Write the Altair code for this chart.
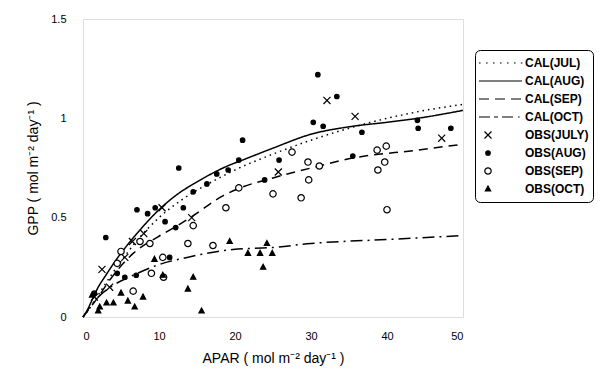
import altair as alt
import pandas as pd

# ---- calculated curves ----
jul_x = [0, 1, 2, 3, 5, 7, 10, 13, 16, 20, 25, 30, 35, 40, 45, 50]
jul_y = [0, 0.05, 0.11, 0.17, 0.28, 0.38, 0.50, 0.59, 0.66, 0.74, 0.82, 0.89, 0.95, 1.00, 1.04, 1.07]
aug_x = [0, 0.5, 1, 2, 3, 4.4, 6, 8, 10, 12.5, 15, 19, 21, 25, 30, 35.5, 40, 44, 50]
aug_y = [0, 0.03, 0.07, 0.15, 0.21, 0.29, 0.37, 0.46, 0.54, 0.62, 0.68, 0.76, 0.79, 0.85, 0.92, 0.96, 0.98, 1.00, 1.04]
sep_x = [0, 1, 1.8, 3.6, 6.6, 9.7, 12, 14.5, 18.4, 20.7, 25, 30, 35.5, 44, 50]
sep_y = [0, 0.05, 0.09, 0.19, 0.32, 0.40, 0.45, 0.51, 0.61, 0.65, 0.70, 0.75, 0.80, 0.84, 0.87]
oct_x = [0, 0.9, 2, 3.6, 6.6, 9.7, 13.7, 19.7, 25, 30, 40, 50]
oct_y = [0, 0.05, 0.10, 0.15, 0.21, 0.26, 0.30, 0.34, 0.35, 0.37, 0.39, 0.41]

obs_jul_x = [1.5, 2.5, 3.5, 5.5, 6.5, 8.0, 10.4, 14.3, 25.7, 32.1, 35.8, 47.2]
obs_jul_y = [0.10, 0.24, 0.15, 0.30, 0.38, 0.42, 0.55, 0.50, 0.73, 1.09, 1.01, 0.90]
obs_aug_x = [1.5, 3.0, 4.5, 5.5, 7.0, 7.1, 8.5, 9.5, 10.8, 11.4, 12.2, 12.6, 13.2, 14.5, 16.3,
             17.6, 19.1, 20.5, 21.0, 23.9, 25.8, 30.3, 30.9, 31.6, 33.4, 35.5, 36.7, 44.1, 44.0, 48.4]
obs_aug_y = [0.12, 0.40, 0.22, 0.20, 0.21, 0.54, 0.52, 0.55, 0.48, 0.30, 0.45, 0.75, 0.55, 0.63, 0.67,
             0.72, 0.74, 0.79, 0.89, 0.69, 0.79, 0.98, 1.22, 0.96, 1.11, 0.81, 0.93, 0.95, 0.99, 0.95]
obs_sep_x = [4.5, 5.0, 6.6, 7.5, 8.8, 9.0, 10.6, 10.5, 13.8, 14.5, 17.1, 18.8, 20.5, 25.0, 27.5,
             28.7, 29.6, 29.7, 31.1, 38.7, 38.8, 39.7, 39.9, 40.0]
obs_sep_y = [0.27, 0.33, 0.13, 0.38, 0.37, 0.22, 0.20, 0.30, 0.37, 0.46, 0.36, 0.55, 0.65, 0.62, 0.83,
             0.60, 0.78, 0.69, 0.76, 0.84, 0.74, 0.78, 0.86, 0.54]
obs_oct_x = [1.2, 2.0, 2.2, 3.1, 4.0, 5.0, 5.9, 6.8, 7.9, 9.4, 10.5, 13.8, 14.5, 15.6, 19.3,
             21.7, 23.3, 23.7, 24.2, 24.9]
obs_oct_y = [0.11, 0.03, 0.05, 0.07, 0.07, 0.12, 0.08, 0.05, 0.10, 0.29, 0.21, 0.14, 0.20, 0.03, 0.38,
             0.32, 0.32, 0.25, 0.37, 0.32]

labels = ["CAL(JUL)", "CAL(AUG)", "CAL(SEP)", "CAL(OCT)",
          "OBS(JULY)", "OBS(AUG)", "OBS(SEP)", "OBS(OCT)"]

curves = pd.concat([
    pd.DataFrame({"x": jul_x, "y": jul_y, "series": labels[0]}),
    pd.DataFrame({"x": aug_x, "y": aug_y, "series": labels[1]}),
    pd.DataFrame({"x": sep_x, "y": sep_y, "series": labels[2]}),
    pd.DataFrame({"x": oct_x, "y": oct_y, "series": labels[3]}),
])
obs = pd.concat([
    pd.DataFrame({"x": obs_jul_x, "y": obs_jul_y, "series": labels[4]}),
    pd.DataFrame({"x": obs_aug_x, "y": obs_aug_y, "series": labels[5]}),
    pd.DataFrame({"x": obs_sep_x, "y": obs_sep_y, "series": labels[6]}),
    pd.DataFrame({"x": obs_oct_x, "y": obs_oct_y, "series": labels[7]}),
])

# legend glyphs (unit coords; 1 unit = 8 px at size 256)
sym_paths = [
    "M-1.125,0h0.2M-0.25,0h0.2M0.625,0h0.2M1.5,0h0.2M2.375,0h0.2M3.25,0h0.2M4.1,0h0.2",
    "M-1.125,0L4.25,0",
    "M-1.125,0L0.125,0M0.875,0L2.125,0M2.875,0L4.125,0",
    "M-1.125,0L0.25,0M0.75,0L1.25,0M1.75,0L3.125,0M3.75,0L3.95,0",
    "M-0.44,-0.44L0.44,0.44M-0.44,0.44L0.44,-0.44",
    "M-0.28,0A0.28,0.28 0 1,0 0.28,0A0.28,0.28 0 1,0 -0.28,0Z",
    "M-0.4,0A0.4,0.4 0 1,0 0.4,0A0.4,0.4 0 1,0 -0.4,0Z",
    "M0,-0.38L0.33,0.24L-0.33,0.24Z",
]
fills = ["transparent", "transparent", "transparent", "transparent",
         "transparent", "black", "white", "black"]
strokes = ["black"] * 8
dashes = [[1.5, 4], [1, 0], [9, 6], [12, 5, 2, 5]]

xscale = alt.Scale(domain=[0, 50], nice=False, zero=True)
yscale = alt.Scale(domain=[0, 1.5], nice=False)

x_axis = alt.Axis(values=[0, 10, 20, 30, 40, 50], title="APAR ( mol m⁻² day⁻¹ )",
                  grid=False, ticks=False, domain=False, labelPadding=13,
                  labelFontSize=11, titleFontSize=14, titlePadding=10,
                  labelFont="Liberation Sans", titleFont="Liberation Sans",
                  titleFontWeight="normal", labelColor="black", titleColor="black")
y_axis = alt.Axis(values=[0, 0.5, 1, 1.5], format="~g", title="GPP ( mol m⁻² day⁻¹ )",
                  grid=False, ticks=False, domain=False, labelPadding=17,
                  labelFontSize=11, titleFontSize=14, titlePadding=10,
                  labelFont="Liberation Sans", titleFont="Liberation Sans",
                  titleFontWeight="normal", labelColor="black", titleColor="black")

lines = alt.Chart(curves).mark_line(color="black", strokeWidth=1.5, interpolate="monotone").encode(
    x=alt.X("x:Q", scale=xscale, axis=x_axis),
    y=alt.Y("y:Q", scale=yscale, axis=y_axis),
    strokeDash=alt.StrokeDash("series:N", scale=alt.Scale(domain=labels[:4], range=dashes),
                              legend=None),
    detail="series:N",
)

legend = alt.Legend(
    title=None, orient="none", legendX=392, legendY=31,
    symbolSize=256, symbolStrokeWidth=1.2,
    labelOffset=28, rowPadding=0, padding=4, clipHeight=18,
    labelFont="Liberation Sans", labelFontSize=12, labelFontWeight="bold",
    labelColor="black", strokeColor="black", cornerRadius=5, labelLimit=200,
)

points = alt.Chart(obs).mark_point(strokeWidth=1.2, size=256, opacity=1).encode(
    x=alt.X("x:Q", scale=xscale),
    y=alt.Y("y:Q", scale=yscale),
    shape=alt.Shape("series:N", scale=alt.Scale(domain=labels, range=sym_paths), legend=legend),
    fill=alt.Fill("series:N", scale=alt.Scale(domain=labels, range=fills), legend=legend),
    stroke=alt.Stroke("series:N", scale=alt.Scale(domain=labels, range=strokes), legend=legend),
)

chart = alt.layer(lines, points).properties(
    width=380, height=298,
    autosize=alt.AutoSizeParams(type="none"),
    padding={"left": 83, "top": 19, "right": 142, "bottom": 64},
).configure_view(stroke="black", strokeWidth=1.5).configure(background="white")

chart.save("out.html", embed_options={"renderer": "svg", "actions": False})
